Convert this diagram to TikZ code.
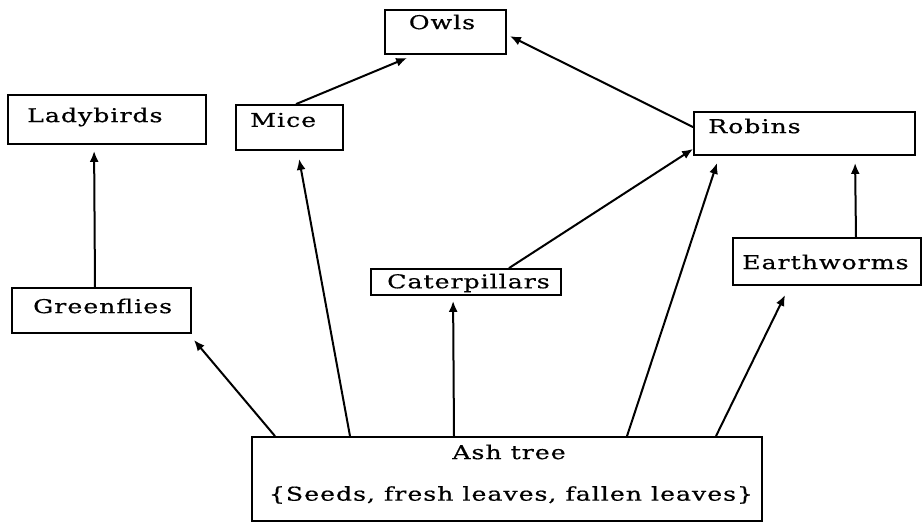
\documentclass[tikz,border=0pt]{standalone}
\usepackage{fontspec}
\setmainfont{DejaVu Serif}[FakeStretch=1.33,LetterSpace=5,FakeBold=0.6]
\usetikzlibrary{arrows.meta,calc}
\begin{document}
\begin{tikzpicture}[x=1pt,y=-1pt,
  box/.style={draw,line width=1.8pt,inner sep=0pt},
  txt/.style={inner sep=0pt,font=\fontsize{19}{22}\selectfont},
  arr/.style={line width=2pt,-{Latex[length=11pt,width=9pt]}}]
\useasboundingbox (0,0) rectangle (922,522);
% boxes
\node[box,minimum width=121,minimum height=44] (owls) at (445.5,32) {};
\node[box,minimum width=198,minimum height=49] (lady) at (107,119.5) {};
\node[box,minimum width=107,minimum height=45] (mice) at (289.5,127.5) {};
\node[box,minimum width=221,minimum height=43] (robins) at (804.5,133.5) {};
\node[box,minimum width=179,minimum height=45] (green) at (101.5,310.5) {};
\node[box,minimum width=190,minimum height=26] (cater) at (466,282) {};
\node[box,minimum width=188,minimum height=47] (earth) at (827,261.5) {};
\node[box,minimum width=510,minimum height=84] (ash) at (507,479) {};
% texts
\node[txt] (towls) at (442,22) {Owls};
\node[txt,anchor=west] (tlady) at (27,117) {Ladybirds};
\node[txt,anchor=west] (tmice) at (250,120) {Mice};
\node[txt,anchor=west] (trobins) at (708,126) {Robins};
\node[txt,anchor=west] (tgreen) at (33,306) {Greenflies};
\node[txt,anchor=west] (tcater) at (387,283) {Caterpillars};
\node[txt,anchor=west] (tearth) at (742,262) {Earthworms};
\node[txt] (tash1) at (509,452) {Ash tree};
\node[txt] (tash2) at (511,495) {\{Seeds, fresh leaves, fallen leaves\}};
% arrows
\draw[arr] (green.north -| 95,0) -- ($(lady.south west)+(87,6)$);
\draw[arr] (ash.north -| 275,0) -- ($(green.south east)+(2,6)$);
\draw[arr] (ash.north -| 350,0) -- ($(mice.south west)+(64,8)$);
\draw[arr] (mice.north -| 296,0) -- ($(owls.south west)+(23,3)$);
\draw[arr] (ash.north -| 454,0) -- ($(cater.south west)+(83,5)$);
\draw[arr] (cater.north -| 509,0) -- ($(robins.south west)+(0,-7)$);
\draw[arr] ($(robins.north west)+(0,16)$) -- ($(owls.north east)+(3,27)$);
\draw[arr] (ash.north -| 627,0) -- ($(robins.south west)+(24,7)$);
\draw[arr] (earth.north -| 856,0) -- ($(robins.south west)+(162,7)$);
\draw[arr] (ash.north -| 716,0) -- ($(earth.south west)+(53,9)$);
\end{tikzpicture}
\end{document}
